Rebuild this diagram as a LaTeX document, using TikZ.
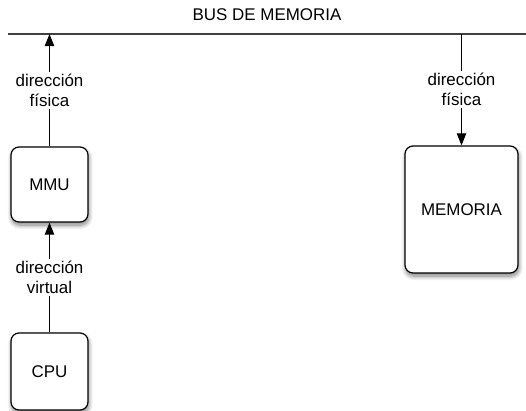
\documentclass[tikz,border=0pt]{standalone}
\usepackage{fontspec}
\setmainfont{Liberation Sans}
\usetikzlibrary{arrows.meta,shadows.blur}

\tikzset{
  txt/.style={font=\fontsize{12.7}{15}\selectfont},
  unit/.style={txt, draw=black, line width=0.9pt, fill=white, rounded corners=6pt,
    align=center,
    blur shadow={shadow xshift=0.6pt, shadow yshift=-2.4pt,
      shadow blur radius=3.2pt, shadow blur steps=10, shadow opacity=50}},
  link/.style={line width=0.8pt, -{Triangle[length=9pt,width=7pt]}},
  lbl/.style={txt, fill=white, inner sep=1.5pt, align=center},
  busline/.style={line width=1.4pt, draw=black!75},
}

\begin{document}
\begin{tikzpicture}[x=0.75pt, y=-0.75pt]
  \useasboundingbox (0,0) rectangle (526,411);

  % memory bus
  \coordinate (busL) at (8,34);
  \coordinate (busR) at (526,34);
  \draw[busline] (busL) -- (busR);
  \node[txt] (buslabel) at (267,15) {BUS DE MEMORIA};

  % units
  \node[unit, minimum width=57.75pt, minimum height=56.25pt] (mmu) at (49.5,184.5) {MMU};
  \node[unit, minimum width=57.75pt, minimum height=57.75pt] (cpu) at (49.5,371.5) {CPU};
  \node[unit, minimum width=84.75pt, minimum height=95.25pt] (mem) at (461.5,209.5) {MEMORIA};

  % addresses
  \draw[link] (cpu.north) -- (mmu.south)
    node[lbl, midway] (va) {dirección\\virtual};
  \draw[link] (mmu.north) -- (mmu.north |- busL)
    node[lbl, midway] (pa1) {dirección\\física};
  \draw[link] (mem.north |- busL) -- (mem.north)
    node[lbl, midway] (pa2) {dirección\\física};
\end{tikzpicture}
\end{document}
